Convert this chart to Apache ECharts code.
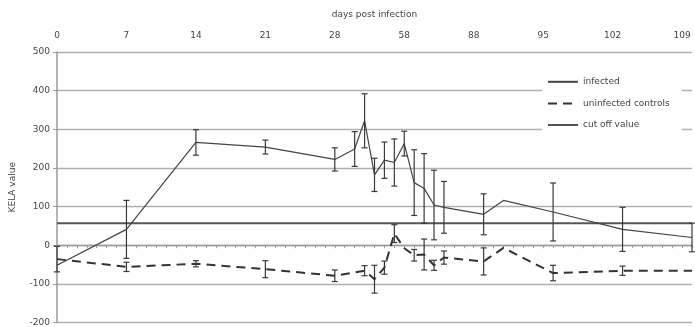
<!DOCTYPE html>
<html>
<head>
<meta charset="utf-8">
<script src="https://cdn.jsdelivr.net/npm/echarts@6/dist/echarts.min.js"></script>
<style>
  html, body { margin: 0; padding: 0; background: #fff; }
  #chart { width: 695px; height: 327px; }
</style>
</head>
<body>
<div id="chart"></div>
<script>
// Sampling slots along the horizontal axis; every 7th slot carries a day label.
const dayTickLabels = [0, 7, 14, 21, 28, 58, 88, 95, 102, 109];
const slotCount = 65;

// Infected animals: slot index, mean KELA value, error (+/-)
const infectedSlot  = [0, 7, 14, 21, 28, 30, 31, 32, 33, 34, 35, 36, 37, 38, 39, 43, 45, 50, 57, 64];
const infectedValue = [-52, 41, 266, 254, 222, 249, 322, 182, 220, 214, 263, 162, 147, 104, 98, 80, 116, 86, 41, 20];
const infectedError = [0, 75, 33, 18, 30, 45, 70, 43, 47, 61, 32, 85, 90, 90, 67, 53, 0, 75, 57, 37];

// Uninfected controls: slot index, mean KELA value, error (+/-)
const controlSlot  = [0, 7, 14, 21, 28, 31, 32, 33, 34, 35, 36, 37, 38, 39, 43, 45, 50, 57, 64];
const controlValue = [-36, -56, -48, -62, -79, -66, -88, -58, 30, -8, -26, -24, -52, -32, -42, -7, -72, -66, -66];
const controlError = [33, 12, 8, 22, 15, 13, 36, 17, 23, 0, 15, 40, 13, 17, 35, 0, 20, 12, 0];

const cutOffValue = 57;

const yMin = -200, yMax = 500, yStep = 100;

const FONT = 'DejaVu Sans';
const TEXT = '#444';

function pairs(xs, ys) { return xs.map((x, i) => [x, ys[i]]); }
function bars(xs, ys, es) {
  return xs.map((x, i) => [x, ys[i] - es[i], ys[i] + es[i]]).filter((d, i) => es[i] > 0);
}

function errorBarItem(params, api) {
  const lo = api.coord([api.value(0), api.value(1)]);
  const hi = api.coord([api.value(0), api.value(2)]);
  const cap = 3;
  const style = { stroke: '#3a3a3a', lineWidth: 1.2, fill: null };
  return {
    type: 'group',
    children: [
      { type: 'line', shape: { x1: lo[0], y1: lo[1], x2: hi[0], y2: hi[1] }, style },
      { type: 'line', shape: { x1: lo[0] - cap, y1: lo[1], x2: lo[0] + cap, y2: lo[1] }, style },
      { type: 'line', shape: { x1: hi[0] - cap, y1: hi[1], x2: hi[0] + cap, y2: hi[1] }, style }
    ]
  };
}

const chart = echarts.init(document.getElementById('chart'), null, { renderer: 'canvas' });

chart.setOption({
  animation: false,
  backgroundColor: '#fff',
  textStyle: { fontFamily: FONT },
  grid: { left: 57, top: 52, right: 1, bottom: 0, containLabel: false },
  legend: {
    orient: 'vertical',
    left: 542,
    top: 69,
    padding: [8, 12, 8, 5],
    itemWidth: 30,
    itemHeight: 12,
    itemGap: 12,
    backgroundColor: '#fff',
    // line samples only, no point marker
    itemStyle: { color: 'rgba(0,0,0,0)', borderWidth: 0, opacity: 0 },
    textStyle: { fontFamily: FONT, fontSize: 9, color: TEXT, padding: [0, 0, 0, 0] },
    data: ['infected', 'uninfected controls', 'cut off value']
  },
  xAxis: {
    type: 'value',
    position: 'top',
    min: 0,
    max: slotCount - 1,
    interval: 7,
    name: 'days post infection',
    nameLocation: 'middle',
    nameGap: 33,
    nameTextStyle: { fontFamily: FONT, fontSize: 9, color: TEXT },
    axisLine: { show: true, lineStyle: { color: '#9a9a9a', width: 1.3 } },
    axisTick: { show: true, length: 3, inside: true, lineStyle: { color: '#9a9a9a' } },
    minorTick: { show: true, splitNumber: 7, length: 3, lineStyle: { color: '#9a9a9a' } },
    splitLine: { show: false },
    axisLabel: {
      margin: 12,
      fontFamily: FONT,
      fontSize: 9,
      color: TEXT,
      formatter: v => (v % 7 === 0 && dayTickLabels[v / 7] !== undefined) ? String(dayTickLabels[v / 7]) : ''
    }
  },
  yAxis: {
    type: 'value',
    min: yMin,
    max: yMax,
    interval: yStep,
    name: 'KELA value',
    nameLocation: 'middle',
    nameGap: 40,
    nameRotate: 90,
    nameTextStyle: { fontFamily: FONT, fontSize: 9, color: TEXT },
    axisLine: { show: true, lineStyle: { color: '#9a9a9a', width: 1.5 } },
    axisTick: { show: true, length: 4, lineStyle: { color: '#9a9a9a' } },
    splitLine: { show: true, lineStyle: { color: '#b0b0b0', width: 1.3 } },
    axisLabel: { margin: 7, fontFamily: FONT, fontSize: 9, color: TEXT }
  },
  series: [
    {
      name: 'cut off value',
      type: 'line',
      symbol: 'none',
      z: 3,
      lineStyle: { color: '#555', width: 2 },
      itemStyle: { color: '#555' },
      data: [[0, cutOffValue], [slotCount - 1, cutOffValue]]
    },
    {
      name: 'infected',
      type: 'line',
      symbol: 'none',
      z: 4,
      lineStyle: { color: '#444', width: 1.2 },
      itemStyle: { color: '#444' },
      data: pairs(infectedSlot, infectedValue)
    },
    {
      name: 'uninfected controls',
      type: 'line',
      symbol: 'none',
      z: 4,
      lineStyle: { color: '#333', width: 2, type: [9, 6] },
      itemStyle: { color: '#333' },
      data: pairs(controlSlot, controlValue)
    },
    {
      name: 'infected error',
      type: 'custom',
      z: 5,
      renderItem: errorBarItem,
      encode: { x: 0, y: [1, 2] },
      data: bars(infectedSlot, infectedValue, infectedError)
    },
    {
      name: 'control error',
      type: 'custom',
      z: 5,
      renderItem: errorBarItem,
      encode: { x: 0, y: [1, 2] },
      data: bars(controlSlot, controlValue, controlError)
    }
  ]
});
</script>
</body>
</html>
